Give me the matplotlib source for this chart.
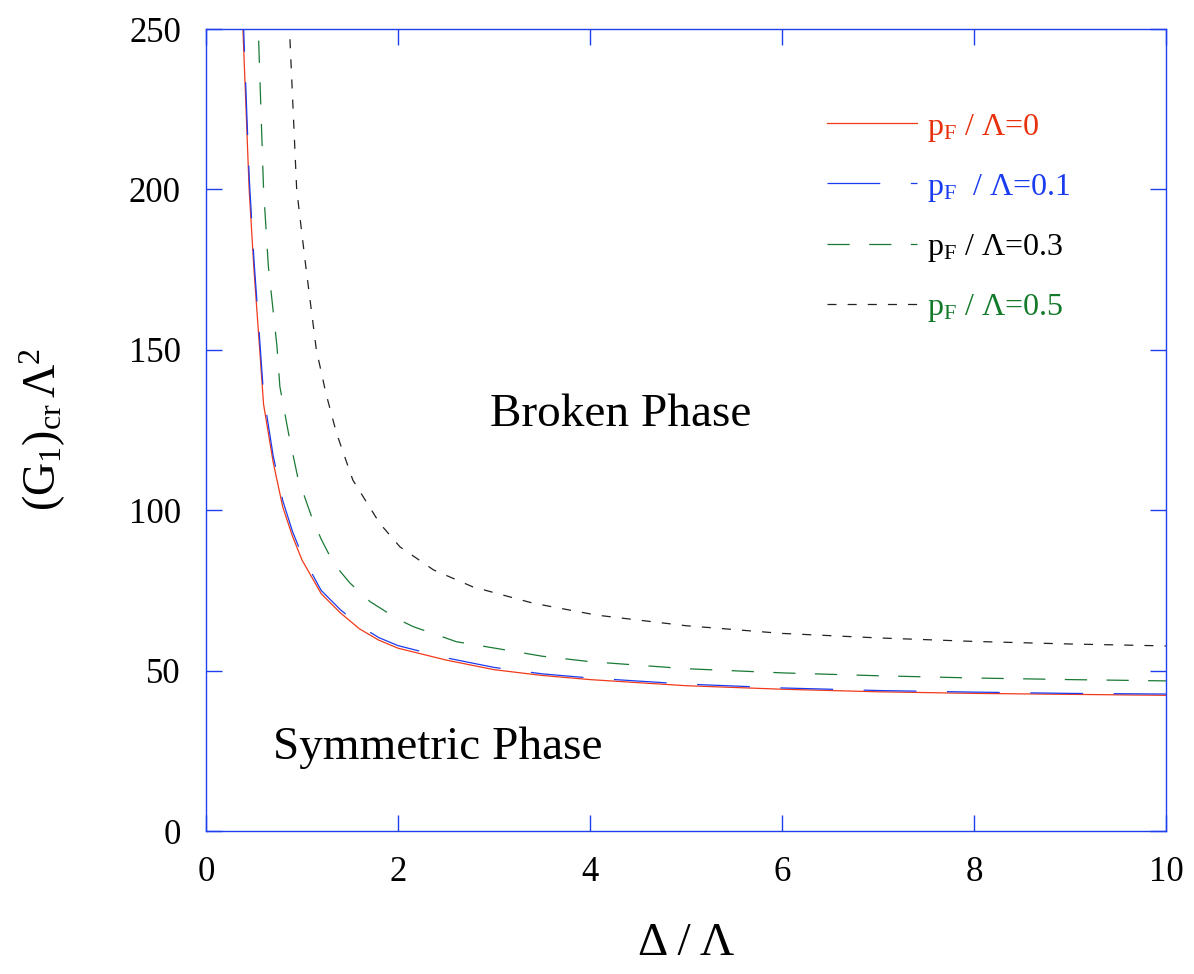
import numpy as np
import matplotlib.pyplot as plt

plt.rcParams['font.family'] = ['Liberation Serif', 'DejaVu Serif']
plt.rcParams['mathtext.fontset'] = 'custom'
plt.rcParams['mathtext.rm'] = 'Liberation Serif'
plt.rcParams['mathtext.it'] = 'Liberation Serif:italic'
plt.rcParams['lines.scale_dashes'] = False

# curves: (G1)_cr * Lambda^2 vs Delta / Lambda
x_p00 = [0.37, 0.385, 0.45, 0.5, 0.56, 0.6, 0.7, 0.8, 0.9, 1.0, 1.2, 1.4, 1.6, 1.8,
         2.0, 2.5, 3.0, 3.5, 4.0, 5.0, 6.0, 7.0, 8.0, 9.0, 10.0]
y_p00 = [262, 250, 200, 175, 150, 133, 115, 101, 92, 84.5, 74, 68, 63, 59.5,
         57, 53.3, 50.3, 48.5, 47.2, 45.3, 44.2, 43.4, 42.9, 42.6, 42.3]

x_p01 = [0.375, 0.39, 0.45, 0.5, 0.56, 0.6, 0.7, 0.8, 0.9, 1.0, 1.2, 1.4, 1.6, 1.8,
         2.0, 2.5, 3.0, 3.5, 4.0, 5.0, 6.0, 7.0, 8.0, 9.0, 10.0]
y_p01 = [264, 252, 204, 178, 153, 136, 117, 103, 93.5, 86, 75, 69, 64, 60.3,
         57.8, 54, 51, 49, 47.7, 45.8, 44.6, 43.8, 43.3, 42.9, 42.7]

x_p03 = [0.53, 0.545, 0.6, 0.65, 0.74, 0.77, 0.86, 0.955, 1.1, 1.2, 1.33, 1.5, 1.71,
         2.0, 2.16, 2.61, 3.03, 3.5, 4.0, 5.0, 6.0, 7.0, 8.0, 9.0, 10.0]
y_p03 = [262, 250, 200, 176, 151, 138.5, 124, 110.4, 98, 91, 83.4, 77.3, 71.5,
         66, 63.7, 59, 56.9, 54.5, 52.8, 50.6, 49.3, 48.4, 47.7, 47.2, 46.8]

x_p05 = [0.85, 0.87, 0.945, 1.0, 1.04, 1.15, 1.25, 1.36, 1.53, 1.81, 2.02, 2.37, 2.78,
         3.41, 4.07, 5.0, 6.0, 7.0, 8.0, 9.0, 10.0]
y_p05 = [262, 250, 200, 186, 176, 150, 136.4, 124, 109.4, 95.9, 88.6, 81.4, 76.1,
         71, 67.3, 64, 61.6, 60.2, 59.1, 58.3, 57.7]

labels = [r'$\mathrm{p_F}$ / Λ=0', r'$\mathrm{p_F}$  / Λ=0.1',
          r'$\mathrm{p_F}$ / Λ=0.3', r'$\mathrm{p_F}$ / Λ=0.5']
line_colors = ['#f03a1a', '#1a3cf0', '#1a7a35', '#222222']
text_colors = ['#e8300c', '#1a3cf0', 'black', '#137a2a']
styles = ['-', (0, (38, 22)), (0, (16, 14)), (0, (6.5, 8))]

xticks = [0, 2, 4, 6, 8, 10]
yticks = [0, 50, 100, 150, 200, 250]

fig = plt.figure(figsize=(11.94, 9.74), dpi=100)
ax = fig.add_axes([0.1725, 0.1468, 0.804, 0.8234])

series = [(x_p00, y_p00), (x_p01, y_p01), (x_p03, y_p03), (x_p05, y_p05)]
for (xs, ys), lab, c, ls in zip(series, labels, line_colors, styles):
    ax.plot(xs, ys, color=c, linestyle=ls, linewidth=0.9, label=lab)

ax.set_xlim(0, 10)
ax.set_ylim(0, 250)
ax.set_xticks(xticks)
ax.set_yticks(yticks)

spine_color = '#2040f0'
for sp in ax.spines.values():
    sp.set_color(spine_color)
    sp.set_linewidth(1.0)
ax.tick_params(direction='in', length=11.5, width=1.0, color=spine_color,
               top=True, right=True, labelsize=25)
ax.tick_params(axis='y', pad=18)
ax.tick_params(axis='x', pad=18)

ax.set_xlabel('Δ / Λ', fontsize=34, labelpad=24)
ax.set_ylabel(r'$\mathrm{(G_1)_{cr}\,\Lambda^2}$', fontsize=33, labelpad=44)

ax.text(4.32, 129.7, 'Broken Phase', fontsize=34, ha='center', va='center')
ax.text(2.41, 25.9, 'Symmetric Phase', fontsize=34, ha='center', va='center')

leg = ax.legend(loc='upper left', bbox_to_anchor=(0.6165, 0.933), frameon=False,
                fontsize=23, handlelength=2.83, handletextpad=0.32, labelspacing=0.88)
for t, c in zip(leg.get_texts(), text_colors):
    t.set_color(c)

fig.savefig('out.png', dpi=100)
